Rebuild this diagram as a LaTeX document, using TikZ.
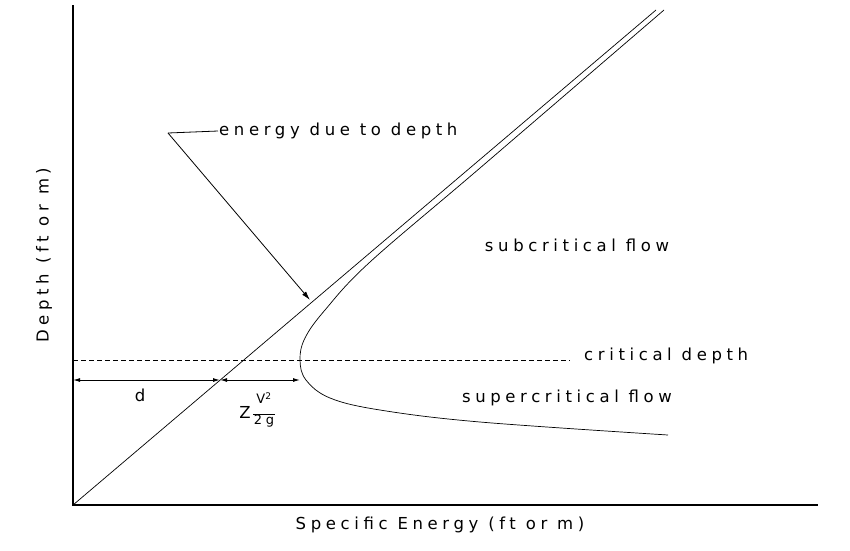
\documentclass[tikz,border=0pt]{standalone}
\usepackage{fontspec}
\setmainfont{DejaVu Sans}
\newfontfamily\cadfont[LetterSpace=28]{DejaVu Sans}
\usetikzlibrary{arrows.meta,positioning}
\begin{document}
\begin{tikzpicture}[x=1pt, y=-1pt]
        % Define styles
        \tikzset{
            axis/.style={line width=1.2pt},
            curve/.style={line width=0.7pt},
            dim/.style={line width=1pt,{Latex[length=7pt,width=4pt]}-{Latex[length=7pt,width=4pt]}},
            label/.style={font=\cadfont\fontsize{16.5}{18}\selectfont, inner sep=1pt},
            small/.style={font=\cadfont\fontsize{13}{14}\selectfont, inner sep=0.5pt}
        }
        \useasboundingbox (0,0) rectangle (850,550);

        % Create axes
        \coordinate (origin) at (73,505);
        \coordinate (ytop) at (73,5);
        \coordinate (xend) at (818,505);
        \draw [axis] (ytop) -- (origin) -- (xend);

        % Energy lines
        \coordinate (linetop) at (656,10);
        \draw [curve] (origin) -- (linetop);
        \draw [curve] plot [smooth, tension=0.6] coordinates {(664,10) (480,168) (370,262) (325,310) (305,338) (300,360) (306,380) (330,398) (380,410) (480,422) (668,435)};

        % Critical depth
        \coordinate (cdleft) at (73,360);
        \coordinate (cdright) at (570,360);
        \draw [dashed, line width=0.8pt, dash pattern=on 5pt off 3pt] (cdleft) -- (cdright);
        \node [label, anchor=west] (critical) at (583,356) {critical depth};

        % Dimension arrows
        \coordinate (dleft) at (73,380);
        \coordinate (dmid) at (220,380);
        \coordinate (dright) at (300,380);
        \draw [dim] (dleft) -- (dmid);
        \draw [dim] (dmid) -- (dright);
        \node [label] (dlabel) at (140,395) {d};
        \node [label] (zlabel) at (245,412) {Z};
        \node [small] (vlabel) at (264,398) {V\textsuperscript{2}};
        \node [small] (glabel) at (264,421) {2g};
        \draw [line width=0.6pt] (glabel.north west) -- (glabel.north east);

        % Leader
        \node [label, anchor=west] (energy) at (218,131) {energy due to depth};
        \coordinate (lead) at (168,133);
        \coordinate (tip) at (310,300);
        \draw [line width=0.8pt] (energy.west) -- (lead);
        \draw [line width=0.8pt, -{Latex[length=9pt,width=5pt]}] (lead) -- (tip);

        % Regions and axis titles
        \node [label] (sub) at (577,245) {subcritical flow};
        \node [label] (super) at (567,398) {supercritical flow};
        \node [label, rotate=90] (ytitle) at (44,255) {Depth (ft or m)};
        \node [label] (xtitle) at (440,525) {Specific Energy (ft or m)};
    \end{tikzpicture}
\end{document}
